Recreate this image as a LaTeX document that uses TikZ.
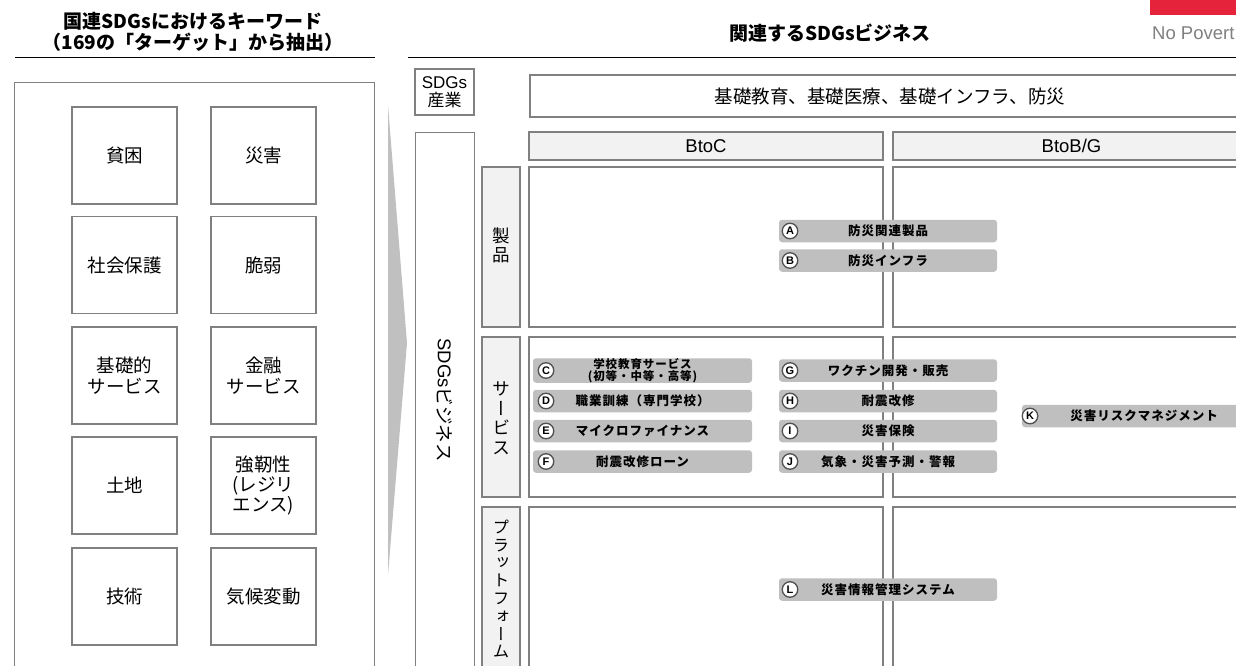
\documentclass[tikz,border=0pt]{standalone}
\usepackage{fontspec}
\setmainfont{Noto Sans CJK JP}
\newfontfamily\lat{Liberation Sans}
\newfontfamily\pillf{Noto Sans CJK JP}[LetterSpace=8]
\newfontfamily\vertf{Noto Sans CJK JP}[RawFeature={+vert}]
\definecolor{bgray}{RGB}{128,128,128}
\definecolor{hdrfill}{RGB}{242,242,242}
\definecolor{pillc}{RGB}{191,191,191}
\definecolor{chevc}{RGB}{192,192,192}
\definecolor{circd}{RGB}{80,80,80}
\definecolor{sdgred}{RGB}{229,36,59}
\definecolor{npgray}{RGB}{128,128,128}
\tikzset{
  bx/.style={draw=bgray, line width=1.4pt, inner sep=0pt},
  kw/.style={bx, minimum width=105pt, minimum height=97pt, align=center,
    font=\fontsize{18.5}{21.5}\selectfont},
  hdr/.style={bx, fill=hdrfill},
  pill/.style={fill=pillc, rounded corners=3pt, minimum height=22.5pt, inner sep=0pt,
    align=center, font=\pillf\bfseries\fontsize{12.5}{11}\selectfont},
  circ/.style={circle, draw=circd, fill=white, line width=1.3pt, minimum size=15.5pt,
    inner sep=0pt, font=\lat\bfseries\fontsize{11}{11}\selectfont},
  vt/.style={align=center, inner sep=0pt},
  ttl/.style={font=\bfseries\fontsize{19}{21}\selectfont, inner sep=0pt},
}
\begin{document}
\begin{tikzpicture}[x=1pt,y=-1pt]
\useasboundingbox (0,0) rectangle (1236,666);
% titles
\node[ttl] (lt1) at (193,21) {国連SDGsにおけるキーワード};
\node[ttl] (lt2) at (193,42) {（169の「ターゲット」から抽出）};
\node[ttl] (rt) at (830,33) {関連するSDGsビジネス};
\draw[line width=0.9pt] (15,57.5) -- (375,57.5);
\draw[line width=0.9pt] (408,57.5) -- (1240,57.5);
\fill[sdgred] (1150,0) rectangle (1240,15);
\node[anchor=west, text=npgray, inner sep=0pt, font=\lat\fontsize{18.5}{18}\selectfont] (np) at (1152,33) {No Povert};
% left keyword panel
\node[bx, anchor=north west, minimum width=360pt, minimum height=610pt] (outer) at (14,82) {};
\node[kw] (k11) at (124.5,155.5) {貧困};
\node[kw] (k12) at (263.5,155.5) {災害};
\node[kw] (k21) at (124.5,265) {社会保護};
\node[kw] (k22) at (263.5,265) {脆弱};
\node[kw] (k31) at (124.5,375.5) {基礎的\\サービス};
\node[kw] (k32) at (263.5,375.5) {金融\\サービス};
\node[kw] (k41) at (124.5,485.5) {土地};
\node[kw, font=\fontsize{18.5}{20}\selectfont] (k42) at (263.5,485.5) {強靭性\\(レジリ\\エンス)};
\node[kw] (k51) at (124.5,596.5) {技術};
\node[kw] (k52) at (263.5,596.5) {気候変動};
% chevron
\fill[chevc] (388,105) -- (407,343) -- (388,575) -- cycle;
% right panel
\node[bx, minimum width=59pt, minimum height=46pt, align=center,
  font=\fontsize{17}{18}\selectfont] (ind) at (444.5,92) {{\lat SDGs}\\産業};
\node[bx, minimum width=720pt, minimum height=42pt, font=\fontsize{18.5}{18}\selectfont] (wide) at (890,96) {基礎教育、基礎医療、基礎インフラ、防災};
\node[bx, anchor=north west, minimum width=59pt, minimum height=560pt] (biz) at (415,132) {};
\node[rotate=-90, inner sep=0pt, font=\fontsize{18.5}{18}\selectfont] (bizt) at (445,400) {{\lat SDGs}ビジネス};
\node[hdr, minimum width=354pt, minimum height=28pt, font=\lat\fontsize{18.5}{18}\selectfont] (btoc) at (706,146) {BtoC};
\node[hdr, minimum width=357pt, minimum height=28pt, font=\lat\fontsize{18.5}{18}\selectfont] (btob) at (1071.5,146) {BtoB/G};
% row headers
\node[hdr, minimum width=38pt, minimum height=160pt] (r1) at (501,247) {};
\node[hdr, minimum width=38pt, minimum height=160pt] (r2) at (501,417) {};
\node[hdr, minimum width=38pt, minimum height=164pt] (r3) at (501,589) {};
\node[vt, font=\vertf\fontsize{17.5}{19}\selectfont] (r1t) at (501,245) {製\\品};
\node[vt, font=\vertf\fontsize{18}{19.5}\selectfont] (r2t) at (501,418) {サ\\ー\\ビ\\ス};
\node[vt, font=\vertf\fontsize{16.5}{17.8}\selectfont] (r3t) at (501,589) {プ\\ラ\\ッ\\ト\\フ\\ォ\\ー\\ム};
% cells
\node[bx, minimum width=354pt, minimum height=160pt] (c11) at (706,247) {};
\node[bx, minimum width=357pt, minimum height=160pt] (c12) at (1071.5,247) {};
\node[bx, minimum width=354pt, minimum height=160pt] (c21) at (706,417) {};
\node[bx, minimum width=357pt, minimum height=160pt] (c22) at (1071.5,417) {};
\node[bx, minimum width=354pt, minimum height=180pt] (c31) at (706,597) {};
\node[bx, minimum width=357pt, minimum height=180pt] (c32) at (1071.5,597) {};
% pills
\node[pill, minimum width=218pt] (pA) at (888,231) {防災関連製品};
\node[circ] (cA) at (790,231) {A};
\node[pill, minimum width=218pt] (pB) at (888,260.5) {防災インフラ};
\node[circ] (cB) at (790,260.5) {B};
\node[pill, minimum width=219pt, font=\pillf\bfseries\fontsize{11.5}{10.5}\selectfont] (pC) at (642.5,370.5) {学校教育サービス\\(初等・中等・高等)};
\node[circ] (cC) at (546,370.5) {C};
\node[pill, minimum width=219pt] (pD) at (642.5,401) {職業訓練（専門学校）};
\node[circ] (cD) at (546,401) {D};
\node[pill, minimum width=219pt] (pE) at (642.5,431) {マイクロファイナンス};
\node[circ] (cE) at (546,431) {E};
\node[pill, minimum width=219pt] (pF) at (642.5,461.5) {耐震改修ローン};
\node[circ] (cF) at (546,461.5) {F};
\node[pill, minimum width=218pt] (pG) at (888,370.5) {ワクチン開発・販売};
\node[circ] (cG) at (790,370.5) {G};
\node[pill, minimum width=218pt] (pH) at (888,401) {耐震改修};
\node[circ] (cH) at (790,401) {H};
\node[pill, minimum width=218pt] (pI) at (888,431) {災害保険};
\node[circ] (cI) at (790,431) {I};
\node[pill, minimum width=218pt] (pJ) at (888,461.5) {気象・災害予測・警報};
\node[circ] (cJ) at (790,461.5) {J};
\node[pill, minimum width=244pt] (pK) at (1144,416) {災害リスクマネジメント};
\node[circ] (cK) at (1030,416) {K};
\node[pill, minimum width=218pt] (pL) at (888,589.5) {災害情報管理システム};
\node[circ] (cL) at (790,589.5) {L};
\end{tikzpicture}
\end{document}
